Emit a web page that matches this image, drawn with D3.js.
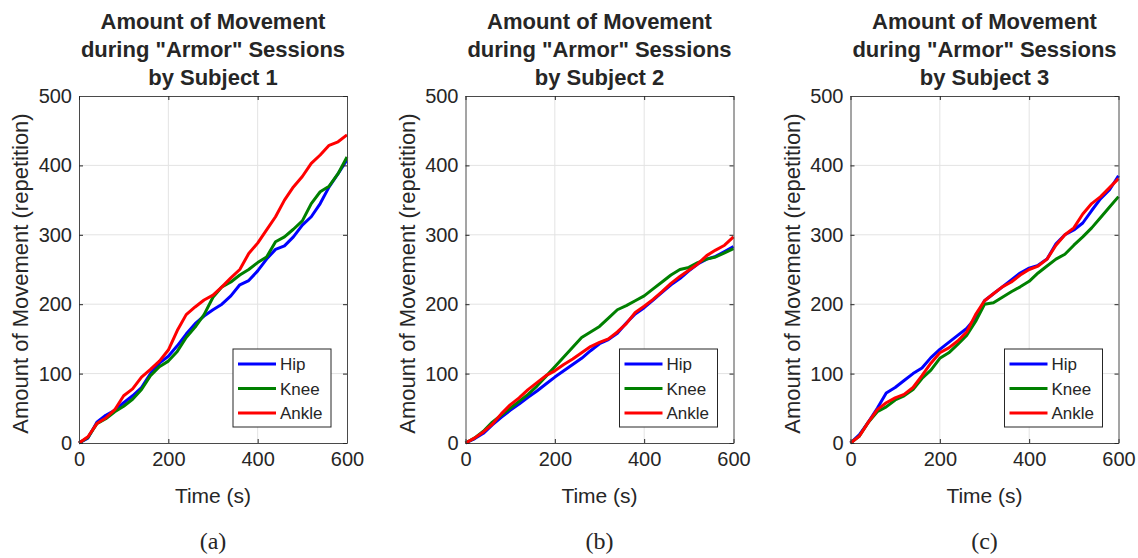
<!DOCTYPE html>
<html lang="en">
<head>
<meta charset="UTF-8">
<title>Amount of Movement during "Armor" Sessions</title>
<style>
  body { margin: 0; background: #fff; }
  svg text { font-family: "Liberation Sans", Arial, sans-serif; fill: #262626; }
</style>
</head>
<body>
<svg id="chart" width="1138" height="558"></svg>
<script src="https://d3js.org/d3.v7.min.js"></script>
<script>
// time samples (s), read every 20 s from the picture
const times = [0,20,40,60,80,100,120,140,160,180,200,220,240,260,280,300,
               320,340,360,380,400,420,440,460,480,500,520,540,560,580,600];

const joints = ['Hip', 'Knee', 'Ankle'];
const jointColors = ['#0000ff', '#008000', '#ff0000'];

// Subject 1
const s1Hip   = [0,7,30,40,47,58,68,80,100,115,125,140,157,172,183,192,200,212,228,234,248,265,279,284,297,314,326,345,369,388,408];
const s1Knee  = [0,8,28,35,45,53,63,77,97,110,118,132,152,167,185,210,225,232,242,250,260,268,290,297,308,320,345,362,370,388,412];
const s1Ankle = [0,9,28,36,48,68,78,95,106,118,134,162,185,196,206,213,225,238,250,273,288,307,326,350,369,384,403,415,429,434,444];
// Subject 2
const s2Hip   = [0,6,14,26,37,47,56,66,75,85,95,104,113,122,133,143,149,158,173,186,195,206,217,228,237,248,258,265,269,276,283];
const s2Knee  = [0,7,17,30,40,50,60,70,82,96,110,124,138,152,160,168,180,192,198,205,212,222,232,242,250,253,260,265,268,274,280];
const s2Ankle = [0,7,16,27,42,55,65,77,87,97,104,113,121,130,139,145,150,160,172,188,197,207,218,230,240,249,258,270,278,285,297];
// Subject 3
const s3Hip   = [0,12,30,50,72,80,90,100,108,123,135,145,155,165,180,205,215,225,235,245,252,256,265,287,300,307,317,335,352,365,385];
const s3Knee  = [0,10,30,45,52,62,68,77,93,105,122,130,142,155,175,200,202,210,218,225,233,245,255,265,272,285,297,310,325,340,355];
const s3Ankle = [0,10,30,48,58,65,70,80,97,115,130,137,147,160,185,205,215,225,232,242,250,255,265,285,300,310,330,345,355,368,381];

const subjects = [
  { name: 'Subject 1', tag: '(a)', series: [s1Hip, s1Knee, s1Ankle] },
  { name: 'Subject 2', tag: '(b)', series: [s2Hip, s2Knee, s2Ankle] },
  { name: 'Subject 3', tag: '(c)', series: [s3Hip, s3Knee, s3Ankle] }
];

const xTicks = [0, 200, 400, 600];
const yTicks = [0, 100, 200, 300, 400, 500];

const svg = d3.select('#chart');
const panelLeft = [79, 465.5, 850.5];
const plotW = 268, plotH = 347, plotTop = 96;

subjects.forEach((s, k) => {
  const g = svg.append('g').attr('transform', `translate(${panelLeft[k]},${plotTop})`);
  const x = d3.scaleLinear().domain([0, 600]).range([0, plotW]);
  const y = d3.scaleLinear().domain([0, 500]).range([plotH, 0]);

  // grid
  g.append('g').selectAll('line').data(xTicks.slice(1, -1)).join('line')
    .attr('x1', d => x(d)).attr('x2', d => x(d)).attr('y1', 0).attr('y2', plotH)
    .attr('stroke', '#e3e3e3').attr('stroke-width', 1);
  g.append('g').selectAll('line').data(yTicks.slice(1, -1)).join('line')
    .attr('y1', d => y(d)).attr('y2', d => y(d)).attr('x1', 0).attr('x2', plotW)
    .attr('stroke', '#e3e3e3').attr('stroke-width', 1);

  // lines
  const line = d3.line().x((d, i) => x(times[i])).y(d => y(d));
  s.series.forEach((vals, j) => {
    g.append('path').datum(vals).attr('d', line)
      .attr('fill', 'none').attr('stroke', jointColors[j])
      .attr('stroke-width', 3).attr('stroke-linejoin', 'round');
  });

  // axes (box with inward ticks)
  const styleAxis = a => {
    a.select('.domain').attr('stroke', '#4a4a4a');
    a.selectAll('.tick line').attr('stroke', '#262626');
    a.selectAll('.tick text').attr('font-size', 20).attr('fill', '#262626')
      .attr('font-family', '"Liberation Sans", Arial, sans-serif');
  };
  g.append('g').attr('transform', `translate(0,${plotH})`)
    .call(d3.axisBottom(x).tickValues(xTicks).tickSizeInner(-4).tickSizeOuter(0).tickPadding(9))
    .call(styleAxis);
  g.append('g')
    .call(d3.axisLeft(y).tickValues(yTicks).tickSizeInner(-4).tickSizeOuter(0).tickPadding(7))
    .call(styleAxis);
  g.append('g')
    .call(d3.axisTop(x).tickValues(xTicks).tickSizeInner(-4).tickSizeOuter(0).tickFormat(''))
    .call(styleAxis);
  g.append('g').attr('transform', `translate(${plotW},0)`)
    .call(d3.axisRight(y).tickValues(yTicks).tickSizeInner(-4).tickSizeOuter(0).tickFormat(''))
    .call(styleAxis);
  g.selectAll('.domain').attr('stroke-width', 1);

  // title
  const title = g.append('text').attr('text-anchor', 'middle')
    .attr('font-size', 22).attr('font-weight', 'bold').attr('fill', '#000');
  ['Amount of Movement', 'during "Armor" Sessions', 'by ' + s.name].forEach((t, i) => {
    title.append('tspan').attr('x', plotW / 2).attr('y', -67 + i * 28).text(t);
  });

  // axis labels
  g.append('text').attr('text-anchor', 'middle').attr('font-size', 21)
    .attr('x', plotW / 2).attr('y', plotH + 60).text('Time (s)');
  g.append('text').attr('text-anchor', 'middle').attr('font-size', 22)
    .attr('transform', `translate(-51,${plotH / 2 + 4}) rotate(-90)`).text('Amount of Movement (repetition)');

  // panel tag
  g.append('text').attr('text-anchor', 'middle').attr('font-size', 24)
    .style('font-family', '"Liberation Serif", "DejaVu Serif", serif')
    .attr('x', plotW / 2).attr('y', plotH + 106).text(s.tag);

  // legend
  const lg = g.append('g').attr('transform', `translate(${plotW - 114},${plotH - 94})`);
  lg.append('rect').attr('width', 98).attr('height', 78)
    .attr('fill', '#fff').attr('stroke', '#262626').attr('stroke-width', 1);
  joints.forEach((name, j) => {
    const yy = 15 + j * 24.5;
    lg.append('line').attr('x1', 5).attr('x2', 43).attr('y1', yy).attr('y2', yy)
      .attr('stroke', jointColors[j]).attr('stroke-width', 3);
    lg.append('text').attr('x', 47).attr('y', yy + 6).attr('font-size', 17).text(name);
  });
});
</script>
</body>
</html>
